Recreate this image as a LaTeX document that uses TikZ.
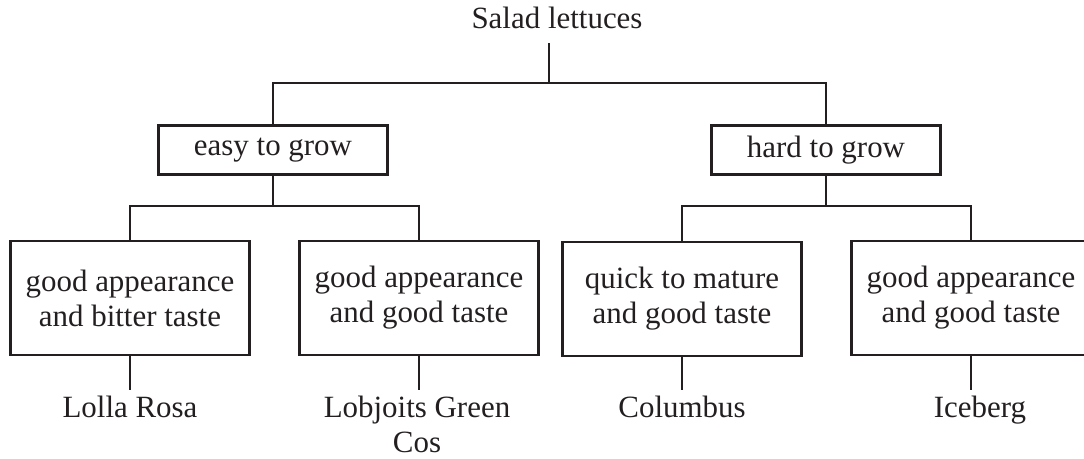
\documentclass[tikz,border=0pt]{standalone}
\usepackage{fontspec}
\setmainfont{Liberation Serif}
\usepackage{tikz}
\definecolor{ink}{HTML}{231F20}

\begin{document}
\begin{tikzpicture}[x=0.025cm,y=-0.025cm,line width=1.7pt,color=ink,
  font=\fontsize{22}{25}\selectfont,
  topbox/.style={draw,minimum width=5.725cm,minimum height=1.225cm,inner sep=0pt},
  leafbox/.style={draw,minimum width=5.975cm,minimum height=2.85cm,align=center,inner sep=0pt},
  plainname/.style={inner sep=0pt,outer sep=4.3pt,align=center}]
\useasboundingbox (0,0) rectangle (1084,459);
\clip (0,0) rectangle (1084,459);

\node[plainname,anchor=base,outer sep=10pt] (root) at (557,29) {Salad lettuces};
\node[topbox] (easy) at (273,150) {easy to grow};
\node[topbox] (hard) at (826,150) {hard to grow};
\coordinate (j0) at (549,83);
\coordinate (j1) at (273,206);
\coordinate (j2) at (826,206);
\draw (root.south -| j0) -- (j0);
\draw (easy.north) |- (j0) -| (hard.north);

\node[leafbox] (bitter) at (130,298) {good appearance\\and bitter taste};
\node[leafbox] (goodA) at (419,298) {good appearance\\and good taste};
\node[leafbox] (quick) at (682,299) {quick to mature\\and good taste};
\node[leafbox] (goodB) at (971,298) {good appearance\\and good taste};
\draw (easy.south) -- (j1);
\draw (bitter.north) |- (j1) -| (goodA.north);
\draw (hard.south) -- (j2);
\draw (quick.north) |- (j2) -| (goodB.north);

\node[plainname,anchor=north] (lolla) at (130,390) {Lolla Rosa};
\node[plainname,anchor=north] (lobjoits) at (417,390) {Lobjoits Green\\Cos};
\node[plainname,anchor=north] (columbus) at (682,390) {Columbus};
\node[plainname,anchor=north] (iceberg) at (980,390) {Iceberg};
\draw (bitter.south) -- (bitter.south |- lolla.north);
\draw (goodA.south) -- (goodA.south |- lobjoits.north);
\draw (quick.south) -- (quick.south |- columbus.north);
\draw (goodB.south) -- (goodB.south |- iceberg.north);

\end{tikzpicture}
\end{document}
